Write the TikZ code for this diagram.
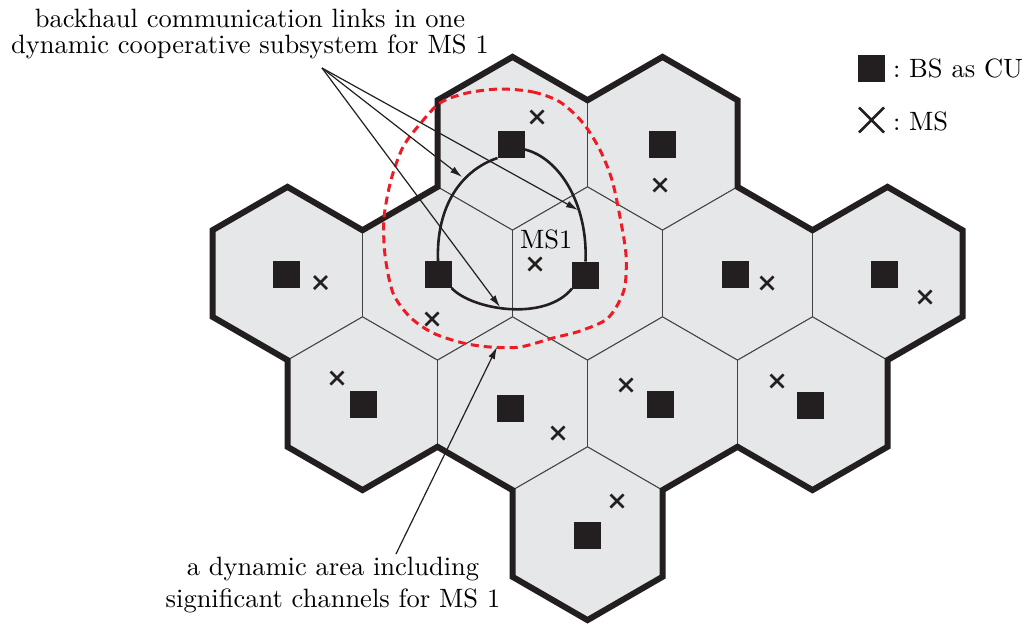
\documentclass[tikz,border=0pt]{standalone}
\usetikzlibrary{arrows.meta,shapes.misc}
% text face: Latin Modern at its 10pt design, enlarged
\font\lblfont="[lmroman10-regular]" at 26.5pt
\definecolor{cellgray}{RGB}{230,231,233}
\definecolor{ink}{RGB}{35,31,32}
\definecolor{zonered}{RGB}{237,28,36}
\begin{document}
\begin{tikzpicture}[x=1pt,y=-1pt,
  cell/.style={fill=cellgray, draw=ink!85, line width=0.9pt},
  rim/.style={draw=ink, line width=6pt, line join=miter},
  bs/.style={rectangle, fill=ink, minimum size=27pt, inner sep=0pt, outer sep=0pt},
  ms/.style={cross out, draw=ink, line width=2.8pt, minimum size=13pt, inner sep=0pt, outer sep=0pt},
  msbig/.style={ms, minimum size=25pt},
  link/.style={draw=ink, line width=2.6pt},
  zone/.style={draw=zonered, line width=3pt, dash pattern=on 8pt off 5pt},
  pointer/.style={draw=ink, line width=1.2pt, -{Latex[length=12pt,width=7pt]}},
  txt/.style={font=\fontsize{26.5}{32}\selectfont\lblfont, inner sep=0pt, outer sep=0pt, text=black}]

\useasboundingbox (0,0) rectangle (1029,624);

% cells of the hexagonal layout
\foreach \cx/\cy in {512.5/143.5, 662.5/143.5,
                     287.5/273.5, 437.5/273.5, 587.5/273.5, 737.5/273.5, 887.5/273.5,
                     362.5/403.5, 512.5/403.5, 662.5/403.5, 812.5/403.5,
                     587.5/533.5}
  \filldraw[cell] (\cx,\cy) +(0,-86.6) -- +(75,-43.3) -- +(75,43.3) -- +(0,86.6)
                   -- +(-75,43.3) -- +(-75,-43.3) -- cycle;

% outer border of the cluster
\draw[rim] (437.5,100.2) -- (512.5,56.9) -- (587.5,100.2) -- (662.5,56.9) -- (737.5,100.2)
  -- (737.5,186.9) -- (812.5,230.2) -- (887.5,186.9) -- (962.5,230.2) -- (962.5,316.8)
  -- (887.5,360.1) -- (887.5,446.8) -- (812.5,490.1) -- (737.5,446.8) -- (662.5,490.1)
  -- (662.5,576.8) -- (587.5,620.1) -- (512.5,576.8) -- (512.5,490.1) -- (437.5,446.8)
  -- (362.5,490.1) -- (287.5,446.8) -- (287.5,360.1) -- (212.5,316.8) -- (212.5,230.2)
  -- (287.5,186.9) -- (362.5,230.2) -- (437.5,186.9) -- cycle;

% base stations
\node[bs] (bsA) at (511,144.5) {};
\node[bs] (bsB) at (662.5,144) {};
\node[bs] (bsC) at (286,274.5) {};
\node[bs] (bsD) at (438,274.5) {};
\node[bs] (bsE) at (585.5,275) {};
\node[bs] (bsF) at (735,274) {};
\node[bs] (bsG) at (884,274) {};
\node[bs] (bsH) at (363,404.5) {};
\node[bs] (bsI) at (510,408) {};
\node[bs] (bsJ) at (660,404.5) {};
\node[bs] (bsK) at (810,405.5) {};
\node[bs] (bsL) at (587,535) {};

% mobile stations
\node[ms] (msA) at (537,117) {};
\node[ms] (msB) at (660,185) {};
\node[ms] (msC) at (320.5,282.5) {};
\node[ms] (ms1) at (535,264) {};
\node[ms] (msE) at (767,283) {};
\node[ms] (msF) at (925,297) {};
\node[ms] (msG) at (432,319) {};
\node[ms] (msH) at (337,378) {};
\node[ms] (msI) at (558,433) {};
\node[ms] (msJ) at (626,385) {};
\node[ms] (msK) at (777,381) {};
\node[ms] (msL) at (617,501) {};
\node[txt, anchor=base west] (ms1lbl) at (520,248) {MS1};

% backhaul links between the cooperating base stations
\draw[link] (bsA.south west) .. controls (462,170) and (436,205) .. (bsD.north);
\draw[link] (bsA.-20) .. controls (560,158) and (588,205) .. (bsE.north);
\draw[link] (bsD.south east) .. controls (472,310) and (545,322) .. (bsE.south west);

% area of significant channels
\draw[zone] plot[smooth cycle] coordinates {
  (500,89) (533,92) (560,102) (583,123) (600,150) (612,180) (620,217) (626,255)
  (624,290) (608,318) (580,331) (553,338) (520,347) (490,347) (463,343) (433,333)
  (410,317) (393,293) (385,255) (384,218) (391,180) (403,147) (420,124) (440,103)
  (467,93)};

% annotations
\node[txt, align=center, anchor=north, font=\fontsize{26.5}{26}\selectfont\lblfont]
  (linklbl) at (250,9.6) {backhaul communication links in one\\dynamic cooperative subsystem for MS 1};
\coordinate (linkSrc) at (322,68);
\coordinate (linkTipA) at (462,177);
\coordinate (linkTipB) at (578,210);
\coordinate (linkTipC) at (500,307);
\draw[pointer] (linkSrc) -- (linkTipA);
\draw[pointer] (linkSrc) -- (linkTipB);
\draw[pointer] (linkSrc) -- (linkTipC);

\node[txt, align=center, anchor=south] (zonelbl) at (333,613)
  {a dynamic area including\\significant channels for MS 1};
\coordinate (zoneTail) at (396,554);
\coordinate (zoneTip) at (497,347);
\draw[pointer] (zoneTail) -- (zoneTip);

% legend
\node[bs] (keyBS) at (871.5,68.5) {};
\node[txt, anchor=base west] (keyBSlbl) at (893,77) {:\ BS as CU};
\node[msbig] (keyMS) at (871.5,120) {};
\node[txt, anchor=base west] (keyMSlbl) at (893,130) {:\ MS};
\end{tikzpicture}
\end{document}
